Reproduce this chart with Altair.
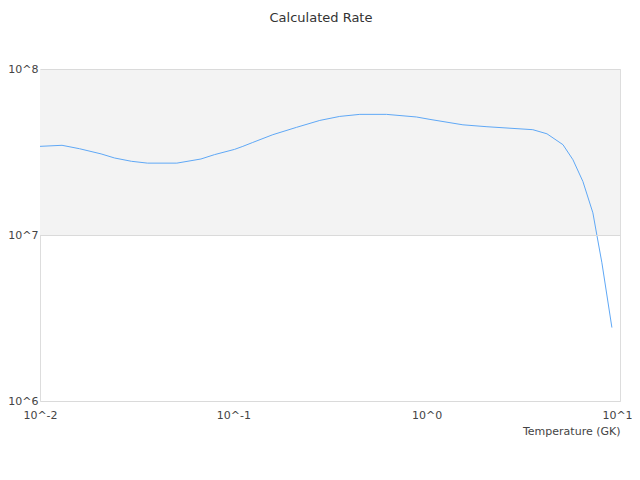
import altair as alt
import pandas as pd

# Data
temperature = [0.01, 0.013, 0.016, 0.0207, 0.0243, 0.0297, 0.036, 0.051, 0.068, 0.08,
               0.1015, 0.112, 0.126, 0.16, 0.212, 0.28, 0.355, 0.451, 0.619, 0.885,
               1.04, 1.54, 2.05, 3.54, 4.19, 5.07, 5.71, 6.43, 7.24, 7.59, 8.06, 9.08]
rate = [3.42e7, 3.47e7, 3.31e7, 3.08e7, 2.91e7, 2.78e7, 2.71e7, 2.71e7, 2.87e7, 3.05e7,
        3.28e7, 3.42e7, 3.61e7, 4.02e7, 4.45e7, 4.90e7, 5.18e7, 5.33e7, 5.33e7, 5.14e7,
        4.97e7, 4.61e7, 4.49e7, 4.31e7, 4.07e7, 3.50e7, 2.84e7, 2.10e7, 1.36e7, 1.00e7,
        6.8e6, 2.77e6]
x_ticks = [0.01, 0.1, 1, 10]
y_ticks = [1e6, 1e7, 1e8]
band_low = [1e7]
band_high = [1e8]

W, H = 580, 332
FONT = "DejaVu Sans"
GRID = "#dadada"

df = pd.DataFrame({"T": temperature, "rate": rate})
band = pd.DataFrame({"lo": band_low, "hi": band_high})

label_expr = "'10^' + round(log(datum.value) / LN10)"

xscale = alt.Scale(type="log", domain=[0.01, 10], nice=False)
yscale = alt.Scale(type="log", domain=[1e6, 1e8], nice=False)

xaxis = alt.Axis(values=x_ticks, labelExpr=label_expr, grid=False, ticks=False,
                 domain=False, labelFont=FONT, labelFontSize=11, labelColor="#444",
                 labelPadding=8, labelFlush=False, labelOverlap=False,
                 labelOffset={"condition": {"test": "datum.value == 10", "value": -3}, "value": 0},
                 title="Temperature (GK)", titleFont=FONT, titleFontSize=11,
                 titleFontWeight="normal", titleColor="#444", titleAlign="right",
                 titleX=W, titleY=33, titleBaseline="alphabetic", zindex=1)
yaxis = alt.Axis(values=y_ticks, labelExpr=label_expr, grid=True, gridColor=GRID,
                 gridWidth=1, ticks=False, domain=False, labelFont=FONT,
                 labelFontSize=11, labelColor="#444", labelPadding=2,
                 labelFlush=False, labelOverlap=False, title=None, zindex=1)

band_layer = alt.Chart(band).mark_rect(color="#f3f3f3").encode(
    x=alt.value(0), x2=alt.value(W),
    y=alt.Y("lo:Q", scale=yscale, axis=yaxis),
    y2="hi:Q",
)

line_layer = alt.Chart(df).mark_line(color="#5fa8f6", strokeWidth=1).encode(
    x=alt.X("T:Q", scale=xscale, axis=xaxis),
    y=alt.Y("rate:Q", scale=yscale, axis=yaxis),
)

chart = alt.layer(band_layer, line_layer).properties(
    width=W, height=H,
    autosize=alt.AutoSizeParams(type="none"),
    padding={"left": 32, "top": 61, "right": 12, "bottom": 60},
    title=alt.TitleParams("Calculated Rate", frame="group", anchor="middle",
                          offset=28, baseline="alphabetic", dx=-9, font=FONT,
                          fontSize=13, fontWeight="normal", color="#333"),
).configure_view(stroke=GRID, strokeWidth=1).configure(background="white")

chart.save("out.html", embed_options={"renderer": "svg", "actions": False})
